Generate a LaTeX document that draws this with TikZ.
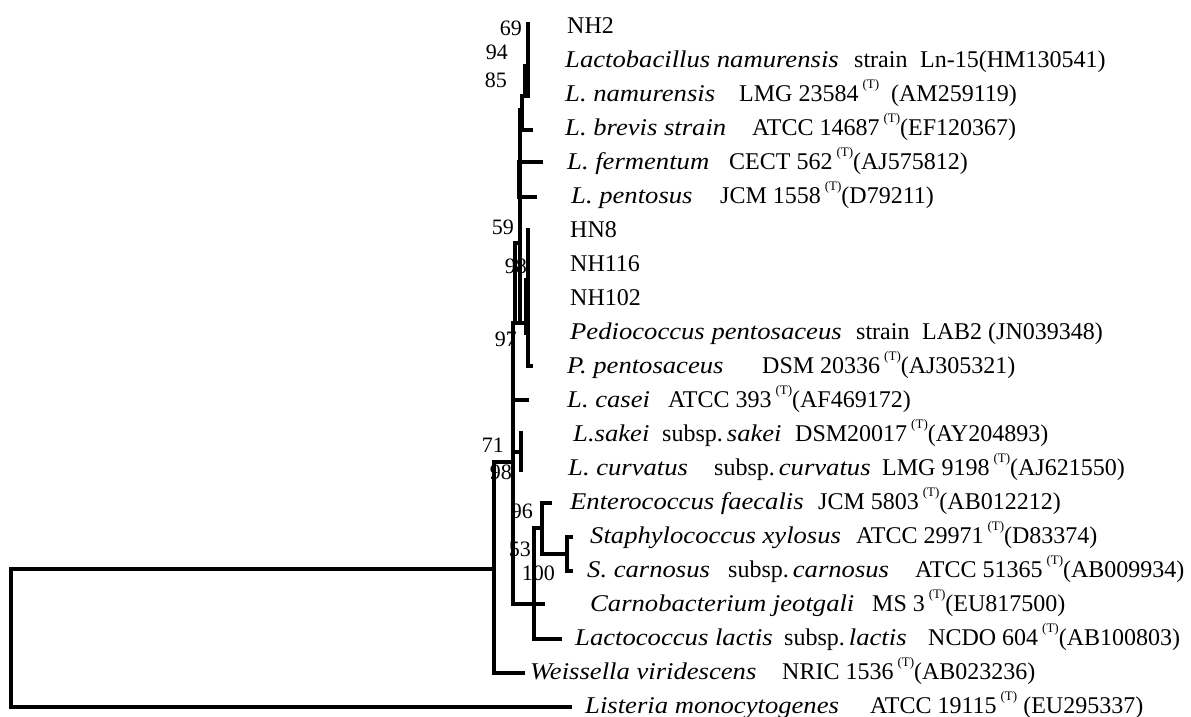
\documentclass[tikz,border=0pt]{standalone}
\usepackage{fontspec}
\setmainfont{Liberation Serif}
\usepackage{graphicx}
\newcommand\typ{\raisebox{0.55em}{\fontsize{13}{13}\selectfont (T)}}
\newcommand\spn[1]{\scalebox{1.11}[1]{\itshape #1}}
\begin{document}
\begin{tikzpicture}[x=1pt,y=-1pt,
 br/.style={line width=3.2pt, line cap=rect, line join=miter},
 lab/.style={anchor=base west, inner sep=0pt, font=\fontsize{24}{24}\selectfont},
 bs/.style={anchor=east, inner sep=0pt, font=\fontsize{22}{22}\selectfont}]
\useasboundingbox (0,0) rectangle (1191,717);
% ---------- branches ----------
\draw[br] (11,569) -- (11,707) -- (570,707);
\draw[br] (11,569) -- (494,569);
\draw[br] (523,673) -- (494,673) -- (494,462) -- (513,462);
\draw[br] (513,323) -- (513,604) -- (543,604);
\draw[br] (513,400) -- (527,400);
\draw[br] (513,452) -- (521,452);
\draw[br] (521,433) -- (521,470);
\draw[br] (560,639) -- (534,639) -- (534,528) -- (541,528);
\draw[br] (550,503) -- (542,503) -- (542,554) -- (567,554);
\draw[br] (571,537) -- (567,537) -- (567,571) -- (571,571);
% upper part
\draw[br] (513,323) -- (528,323);
\draw[br] (528,230) -- (528,366) -- (531,366);
\draw[br] (526,280) -- (526,333);
\draw[br] (519,243) -- (515,243) -- (515,323);
\draw[br] (520,110) -- (520,323);
\draw[br] (519,162) -- (519,197);
\draw[br] (519,162) -- (541,162);
\draw[br] (519,197) -- (535,197);
\draw[br] (520,110) -- (522,110);
\draw[br] (525,96) -- (522,96) -- (522,130) -- (531,130);
\draw[br] (528,66) -- (525,66) -- (525,96);
\draw[br] (528,24) -- (528,96);
% ---------- bootstrap values ----------
\node[bs] (b1) at (522,28) {69};
\node[bs] (b2) at (508,52) {94};
\node[bs] (b3) at (507,80) {85};
\node[bs] (b4) at (514,227) {59};
\node[bs] (b5) at (527,266) {98};
\node[bs] (b6) at (517,339) {97};
\node[bs] (b7) at (504,445) {71};
\node[bs] (b8) at (512,472) {98};
\node[bs] (b9) at (533,511) {96};
\node[bs] (b10) at (531,549) {53};
\node[bs] (b11) at (555,573) {100};
% ---------- taxa ----------
\node[lab] (n1) at (567,33.5) {NH2};
\node[lab] (n2) at (565,67.5) {\spn{Lactobacillus namurensis}};
\node[lab] (n2b) at (854,67.5) {strain};
\node[lab] (n2c) at (920,67.5) {Ln-15(HM130541)};
\node[lab] (n3) at (565,101.5) {\spn{L. namurensis}};
\node[lab] (n3b) at (739,101.5) {LMG 23584\,\typ\hspace{12pt}(AM259119)};
\node[lab] (n4) at (565,135.5) {\spn{L. brevis strain}};
\node[lab] (n4b) at (752,135.5) {ATCC 14687\,\typ(EF120367)};
\node[lab] (n5) at (567,169.5) {\spn{L. fermentum}};
\node[lab] (n5b) at (729,169.5) {CECT 562\,\typ(AJ575812)};
\node[lab] (n6) at (571,203.5) {\spn{L. pentosus}};
\node[lab] (n6b) at (720,203.5) {JCM 1558\,\typ(D79211)};
\node[lab] (n7) at (570,237.5) {HN8};
\node[lab] (n8) at (570,271.5) {NH116};
\node[lab] (n9) at (570,305.5) {NH102};
\node[lab] (n10) at (570,339.5) {\spn{Pediococcus pentosaceus}};
\node[lab] (n10b) at (856,339.5) {strain};
\node[lab] (n10c) at (922,339.5) {LAB2 (JN039348)};
\node[lab] (n11) at (567,373.5) {\spn{P. pentosaceus}};
\node[lab] (n11b) at (762,373.5) {DSM 20336\,\typ(AJ305321)};
\node[lab] (n12) at (567,407.5) {\spn{L. casei}};
\node[lab] (n12b) at (668,407.5) {ATCC 393\,\typ(AF469172)};
\node[lab] (n13) at (573,441.5) {\spn{L.sakei}};
\node[lab] (n13b) at (662,441.5) {subsp.\,\spn{sakei}};
\node[lab] (n13c) at (795,441.5) {DSM20017\,\typ(AY204893)};
\node[lab] (n14) at (568,475.5) {\spn{L. curvatus}};
\node[lab] (n14b) at (714,475.5) {subsp.\,\spn{curvatus}};
\node[lab] (n14c) at (882,475.5) {LMG 9198\,\typ(AJ621550)};
\node[lab] (n15) at (570,509.5) {\spn{Enterococcus faecalis}};
\node[lab] (n15b) at (818,509.5) {JCM 5803\,\typ(AB012212)};
\node[lab] (n16) at (590,543.5) {\spn{Staphylococcus xylosus}};
\node[lab] (n16b) at (856,543.5) {ATCC 29971\,\typ(D83374)};
\node[lab] (n17) at (587,577.5) {\spn{S. carnosus}};
\node[lab] (n17b) at (728,577.5) {subsp.\,\spn{carnosus}};
\node[lab] (n17c) at (915,577.5) {ATCC 51365\,\typ(AB009934)};
\node[lab] (n18) at (590,611.5) {\spn{Carnobacterium jeotgali}};
\node[lab] (n18b) at (872,611.5) {MS 3\,\typ(EU817500)};
\node[lab] (n19) at (575,645.5) {\spn{Lactococcus lactis}};
\node[lab] (n19b) at (784,645.5) {subsp.\,\spn{lactis}};
\node[lab] (n19c) at (928,645.5) {NCDO 604\,\typ(AB100803)};
\node[lab] (n20) at (530,679.5) {\spn{Weissella viridescens}};
\node[lab] (n20b) at (782,679.5) {NRIC 1536\,\typ(AB023236)};
\node[lab] (n21) at (585,713.5) {\spn{Listeria monocytogenes}};
\node[lab] (n21b) at (870,713.5) {ATCC 19115\,\typ\ (EU295337)};
\end{tikzpicture}
\end{document}
